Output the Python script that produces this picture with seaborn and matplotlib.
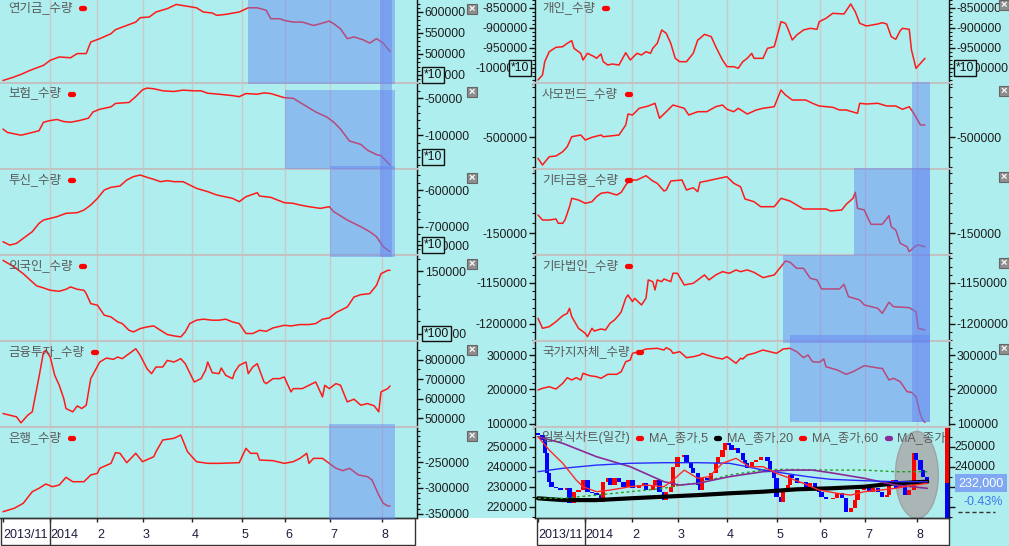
import matplotlib
matplotlib.use("Agg")
import matplotlib.pyplot as plt
import matplotlib.transforms as mtransforms
from matplotlib.patches import Rectangle, Ellipse
from matplotlib.lines import Line2D
from matplotlib.ticker import MultipleLocator, NullLocator
import pandas as pd
import seaborn as sns

W, H = 1009, 546
BG = "#AFEEEE"

# ---------------- data ----------------
MONTH_POS = [0, 20.9, 41.8, 62.2, 84.0, 106.2, 125.3, 145.3, 168.4]
MONTH_LABELS = ["2013/11", "2014", "2", "3", "4", "5", "6", "7", "8"]

PENSION = [(0,437000),(4,443600),(8,451500),(12,461000),(18,473000),(21,485000),(25,493000),(30,491000),
           (33,501000),(37,501000),(39,528500),(43,536500),(48,548400),(50,558000),(55,568000),(59,576000),
           (61,586500),(65,588000),(68,600000),(73,608000),(77,618000),(82,613500),(86,610000),(89,600000),
           (93,597600),(95,592000),(99,594400),(105,600000),(109,610000),(113,610000),(117,604000),(119,584000),
           (123,584000),(125,580000),(129,576000),(133,576000),(138,568000),(141,572000),(145,578500),(147,572000),
           (150,560000),(153,536500),(156,540500),(160,534000),(163,526000),(166,536500),(169,526000),(172,506000)]

INSURANCE = [(0,-91670),(2,-96300),(8,-100000),(13,-96300),(16,-94000),(18,-82400),(21,-80100),(24,-78700),
             (27,-81500),(30,-82400),(34,-80100),(38,-76900),(40,-68500),(43,-64800),(48,-61600),(50,-56900),
             (56,-55600),(59,-47700),(62,-38400),(64,-36100),(67,-37000),(71,-39800),(76,-40700),(80,-38900),
             (85,-39800),(88,-39800),(91,-43100),(96,-44400),(102,-46300),(105,-47700),(108,-43500),(113,-44400),
             (116,-42600),(119,-43500),(122,-46300),(125,-49100),(129,-50000),(132,-55600),(136,-63000),
             (139,-68500),(144,-75500),(147,-82400),(150,-91700),(154,-107900),(159,-112500),(162,-120400),
             (166,-126400),(168,-127800),(172,-140300)]

INVTRUST = [(0,-740900),(3,-750000),(6,-745400),(9,-731800),(11,-722700),(13,-713600),(16,-690900),(18,-681800),
            (21,-677300),(24,-672700),(28,-663600),(33,-661800),(36,-654500),(39,-640900),(42,-622700),(45,-600000),
            (48,-592700),(52,-589100),(55,-572700),(58,-563600),(61,-559100),(64,-565500),(67,-570900),(70,-577300),
            (73,-574500),(76,-577300),(80,-577300),(83,-586400),(86,-595500),(91,-604500),(95,-613600),(102,-622700),
            (105,-631800),(108,-618200),(113,-607300),(114,-616400),(119,-620000),(122,-627300),(125,-634500),
            (129,-636400),(132,-640900),(136,-645500),(141,-650000),(145,-645500),(147,-659100),(153,-681800),
            (159,-700000),(163,-713600),(166,-727300),(169,-754500),(172,-768200)]

FOREIGN = [(0,158800),(5,153500),(9,148100),(13,141500),(15,138300),(18,136700),(21,134800),(25,134000),(28,135600),
           (30,137500),(33,135600),(36,134800),(37,132100),(39,124100),(42,122800),(45,114800),(48,113400),(51,109400),
           (53,108100),(56,102700),(58,101400),(61,104100),(64,105400),(67,106200),(70,102700),(73,99300),(76,98200),
           (79,97400),(81,101400),(83,108100),(86,110800),(89,111600),(93,110800),(96,110800),(99,111600),(102,109400),
           (105,108100),(108,100100),(111,100100),(114,102700),(117,101900),(120,104600),(125,106700),(128,106200),
           (132,107300),(136,107300),(139,108100),(142,111600),(145,112600),(148,116900),(153,121400),(156,129400),
           (159,131300),(163,132100),(166,138800),(168,148100),(171,150800),(172,150800)]

FININV = [(0,525400),(3,516900),(6,508500),(8,477900),(11,516900),(13,533900),(15,652500),(16,711900),(18,839000),
          (19,847500),(21,813600),(23,720300),(25,669500),(27,601700),(28,550800),(31,533900),(33,564400),(35,550800),
          (37,567800),(39,703400),(41,745800),(43,788100),(46,808500),(49,801700),(51,813600),(53,805100),(56,830500),
          (59,855900),(61,822000),(64,754200),(66,728800),(68,762700),(71,762700),(73,796600),(76,788100),(79,805100),
          (81,779700),(85,686400),(88,703400),(90,745800),(91,788100),(93,733900),(96,728800),(97,757600),(99,720300),
          (102,703400),(103,737300),(105,771200),(108,788100),(109,728800),(111,762700),(113,779700),(116,686400),
          (117,678000),(120,703400),(123,703400),(125,711900),(128,635600),(129,652500),(133,652500),(136,669500),
          (139,686400),(142,610200),(143,669500),(145,652500),(148,678000),(150,669500),(153,584700),(156,598300),
          (159,567800),(162,576300),(165,564400),(167,533900),(168,635600),(171,652500),(172,666100)]

BANK = [(0,-345600),(5,-339000),(9,-329400),(13,-307100),(16,-300600),(19,-292300),(22,-297500),(25,-294200),
        (28,-279500),(31,-287900),(36,-287900),(39,-275000),(42,-271700),(43,-262100),(48,-252600),(50,-232100),
        (52,-233300),(55,-251300),(59,-233300),(62,-249400),(67,-239800),(68,-230200),(71,-207700),(76,-204400),
        (79,-198100),(82,-230200),(86,-249400),(91,-252600),(96,-252600),(105,-251300),(108,-223700),(110,-233300),
        (113,-233300),(114,-246200),(120,-247400),(125,-252600),(129,-249400),(132,-243000),(135,-233300),
        (136,-252600),(138,-243000),(142,-243000),(145,-252600),(148,-262100),(151,-266700),(154,-262100),
        (158,-275000),(162,-278200),(164,-284600),(167,-313500),(169,-329400),(171,-334600),(172,-334600)]

INDIVIDUAL = [(0,-1030000),(2,-1017500),(3,-984200),(5,-959200),(8,-948300),(11,-946700),(13,-938300),(15,-931700),
              (16,-950800),(19,-963300),(20,-980000),(22,-963300),(25,-971700),(26,-975800),(28,-965000),(29,-984200),
              (31,-992500),(33,-990000),(36,-992500),(39,-961700),(41,-980000),(44,-963300),(46,-967500),(48,-959200),
              (50,-963300),(51,-950800),(53,-938300),(55,-905000),(57,-913300),(59,-938300),(61,-975800),(63,-984200),
              (66,-984200),(69,-963300),(71,-930000),(72,-925800),(74,-915800),(77,-921700),(79,-946700),(82,-980000),
              (84,-996700),(87,-996700),(89,-1000800),(91,-984200),(93,-975800),(95,-963300),(96,-975800),
              (100,-975800),(102,-950800),(105,-946700),(108,-884200),(110,-888300),(111,-900800),(113,-930000),
              (115,-917500),(118,-905000),(121,-900800),(124,-903300),(125,-884200),(128,-875800),(131,-863300),
              (136,-865000),(139,-840000),(141,-859200),(143,-888300),(146,-895000),(151,-890000),(153,-886700),
              (155,-890000),(157,-921700),(159,-928300),(161,-906700),(162,-900800),(165,-903300),(166,-955000),
              (168,-1000800),(170,-988300),(172,-975800)]

PRIVFUND = [(0,-521300),(2,-528000),(5,-519700),(8,-519000),(11,-514700),(13,-509700),(15,-499700),(19,-498000),
            (21,-503000),(24,-500300),(28,-498000),(29,-499700),(32,-499000),(36,-498000),(39,-488000),(40,-477000),
            (42,-478000),(45,-471300),(49,-469000),(52,-466300),(54,-481300),(57,-474700),(60,-468000),(65,-471300),
            (67,-478000),(71,-474700),(75,-474700),(79,-469700),(82,-468000),(84,-472300),(87,-474700),(89,-471300),
            (93,-477000),(97,-473000),(100,-471300),(105,-469700),(108,-453000),(110,-458000),(113,-463000),
            (119,-463000),(122,-466300),(125,-469000),(131,-470300),(134,-473000),(137,-473000),(142,-476300),
            (143,-466300),(146,-467000),(151,-466300),(155,-469000),(159,-469000),(162,-472300),(165,-469700),
            (167,-476300),(170,-488000),(172,-488000)]

OTHERFIN = [(0,-132000),(2,-137000),(5,-137000),(8,-136000),(9,-140300),(11,-140300),(12,-137000),(14,-123700),
            (15,-115300),(18,-117000),(21,-120300),(24,-118700),(26,-113700),(28,-110300),(31,-109300),(35,-112000),
            (37,-109300),(39,-102000),(41,-97000),(44,-97000),(48,-92700),(51,-98000),(53,-100300),(56,-108000),
            (57,-107000),(59,-98000),(64,-97000),(66,-107000),(69,-104700),(71,-108700),(72,-99300),(75,-98000),
            (79,-96000),(84,-93700),(87,-100300),(90,-103700),(92,-116000),(96,-118700),(99,-123700),(105,-123700),
            (108,-115300),(112,-118000),(115,-122000),(118,-126000),(128,-126000),(130,-128000),(135,-127000),
            (137,-121300),(140,-115300),(141,-109300),(142,-125300),(145,-127000),(146,-132000),(148,-141300),
            (153,-141300),(156,-132700),(157,-143700),(159,-147000),(161,-160300),(164,-163700),(165,-168700),
            (168,-162700),(169,-162000),(172,-163700)]

OTHERCORP = [(0,-1193100),(2,-1205300),(5,-1203300),(8,-1197200),(11,-1189900),(13,-1187000),(14,-1180900),
             (15,-1191100),(18,-1205300),(21,-1211400),(22,-1215500),(24,-1205300),(25,-1208600),(28,-1206100),
             (30,-1207300),(32,-1199200),(34,-1195100),(36,-1189000),(37,-1185000),(39,-1168700),(40,-1164600),
             (42,-1172800),(43,-1168700),(46,-1176800),(48,-1168700),(49,-1146300),(51,-1148400),(52,-1158500),
             (53,-1146300),(55,-1148400),(56,-1145100),(59,-1148400),(60,-1138200),(62,-1138200),(65,-1152400),
             (69,-1150400),(72,-1144300),(74,-1140200),(76,-1146300),(79,-1140200),(82,-1136200),(85,-1138200),
             (88,-1134100),(90,-1136200),(93,-1134100),(96,-1137000),(100,-1143500),(105,-1140200),(108,-1130100),
             (110,-1123200),(112,-1124700),(115,-1132100),(118,-1132100),(121,-1144300),(124,-1146300),
             (126,-1157300),(134,-1157300),(136,-1151600),(138,-1166700),(143,-1170700),(145,-1176800),
             (151,-1180900),(153,-1187000),(156,-1173500),(158,-1178900),(165,-1180100),(168,-1185000),
             (169,-1205300),(172,-1207300)]

GOVT = [(0,198500),(2,203400),(5,208100),(7,203400),(8,201400),(11,217900),(13,234200),(15,227500),(17,234200),
        (19,227500),(20,246900),(23,240000),(26,237100),(28,232400),(31,244000),(35,244000),(37,251600),(39,280600),
        (41,285500),(42,304900),(45,309600),(48,317400),(53,319400),(56,314500),(57,321200),(59,314500),(60,304900),
        (63,309600),(66,292200),(69,295100),(72,300000),(73,304900),(76,298000),(79,292200),(82,288400),(84,295100),
        (85,290400),(88,275900),(90,290400),(91,288400),(93,300000),(96,304900),(100,314500),(103,309600),(106,304900),
        (109,317400),(112,319400),(115,309600),(118,292200),(120,300000),(122,280600),(125,278800),(127,288400),
        (128,266100),(133,256500),(137,244000),(140,251600),(145,269000),(152,261400),(153,261400),(156,227500),
        (158,232400),(161,222600),(164,193600),(166,191800),(168,179100),(170,126000),(171,111500),(172,104800)]

# daily chart: (day, open, close)
CANDLES = [(0,257000,255800),(2,255800,253300),(3,253300,246700),(4,246700,236700),(5,236700,232500),
           (6,232500,230000),(8,230000,229200),(10,229200,228300),(13,228300,229200),(14,229200,221700),
           (16,221700,227500),(18,227500,228300),(20,228300,233300),(22,233300,227500),(24,227500,226700),
           (26,226700,225800),(28,225800,222500),(29,222500,232500),(31,232500,234200),(32,234200,230800),
           (34,230800,234200),(36,234200,232500),(38,232500,230000),(40,230000,233300),(42,233300,229200),
           (45,229200,230800),(47,230800,231700),(48,231700,228300),(51,228300,230800),(52,230800,233300),
           (54,233300,227500),(56,227500,223300),(57,223300,227500),(59,227500,230000),(60,230000,240000),
           (62,240000,245000),(65,245000,245800),(66,245800,241700),(68,241700,239200),(69,239200,236700),
           (71,236700,230800),(72,230800,228300),(73,228300,234200),(75,234200,233300),(77,233300,236700),
           (79,236700,241700),(80,241700,245000),(82,245000,248300),(83,248300,251700),(85,251700,250800),
           (86,250800,248300),(88,248300,249200),(89,249200,246700),(91,246700,243300),(92,243300,241700),
           (93,241700,239200),(95,239200,242500),(97,242500,243300),(99,243300,245000),(102,245000,243000),
           (103,243000,237500),(105,237500,234200),(106,234200,225000),(108,225000,222500),(109,222500,227500),
           (111,227500,230800),(112,230800,235800),(113,235800,234200),(115,234200,231700),(117,231700,232500),
           (119,232500,230000),(121,230000,231700),(123,231700,230000),(125,230000,227500),(126,227500,225000),
           (128,225000,223700),(131,223700,224200),(133,224200,226700),(135,226700,224200),(137,224200,217500),
           (139,217500,219200),(141,219200,223300),(142,223300,228300),(145,228300,229200),(147,229200,227500),
           (149,227500,229200),(151,229200,227500),(153,227500,225000),(155,225000,225800),(156,225800,232500),
           (158,232500,233300),(159,233300,229200),(161,229200,231000),(163,231000,225800),(165,225800,228300),
           (167,228300,246700),(168,246700,243300),(170,243300,238300),(171,238300,235000),(173,235000,232000)]

MA_RED = [(0,255000),(5,248300),(11,241700),(17,233300),(20,230000),(26,227500),(32,228300),(41,230000),(48,230800),
          (56,230000),(60,233300),(65,238300),(71,234200),(76,235000),(82,241700),(88,244200),(94,240000),(100,240000),
          (106,236700),(112,234200),(118,231700),(125,228300),(133,226700),(139,225800),(145,227500),(152,228300),
          (159,229200),(167,230800),(173,231700)]
MA_BLUE = [(0,237500),(11,239200),(26,240800),(41,241700),(56,242000),(71,242000),(85,241700),(93,240000),
           (100,238300),(108,237000),(115,235800),(122,234700),(130,233700),(145,233000),(159,232500),(173,232500)]
MA_PURPLE = [(0,255000),(11,251700),(26,245000),(41,240000),(56,232500),(63,230800),(71,231700),(85,235000),
             (100,237500),(112,238300),(122,238300),(130,237000),(145,234200),(159,230800),(173,229200)]
MA_GREEN = [(0,224200),(11,224200),(26,225800),(41,227500),(56,229200),(63,230800),(71,231700),(85,235800),
            (100,238300),(109,238700),(130,238300),(145,238300),(159,237500),(173,237500)]
MA_BLACK = [(0,224200),(11,223300),(26,223300),(41,224200),(56,225000),(71,225800),(85,226700),(100,227500),
            (115,228700),(130,229200),(145,230000),(159,231700),(173,232500)]

LAST_PRICE = "232,000"
LAST_CHANGE = "-0.43%"
CHART_TITLE = "일봉식차트(일간)"
MA_NAMES = ["MA_종가,5", "MA_종가,20", "MA_종가,60", "MA_종가,120"]

# ---------------- style ----------------
sns.set_theme(style="white")
plt.rcParams["font.family"] = ["Liberation Sans", "Noto Sans CJK KR", "DejaVu Sans"]
plt.rcParams["axes.unicode_minus"] = False

fig = plt.figure(figsize=(W / 100, H / 100), dpi=100, facecolor=BG)
renderer = fig.canvas.get_renderer()

ROWS = [(0, 84), (84, 170), (170, 256), (256, 342), (342, 428), (428, 518)]
LINE_RED = "#ff1a1a"
TICK_FS = 8.7
TITLE_FS = 9
TITLE_C = "#5a5a5a"


def fx(x):
    return x / W


def fy(y):
    return 1 - y / H


def px_ax(x0, x1, y0, y1):
    return fig.add_axes([x0 / W, 1 - y1 / H, (x1 - x0) / W, (y1 - y0) / H])


def pill(x, y, color):
    fig.add_artist(Line2D([fx(x + 2.5), fx(x + 5.5)], [fy(y), fy(y)], lw=3.8, color=color,
                          solid_capstyle="round"))
    return x + 8


def place_items(x, y, items, clip_ax=None):
    for kind, val, col in items:
        if kind == "text":
            t = fig.text(fx(x), fy(y), val, fontsize=TITLE_FS, color=col, va="center", ha="left")
            if clip_ax is not None:
                t.set_clip_box(clip_ax.bbox)
                t.set_clip_on(True)
            bb = t.get_window_extent(renderer)
            x = bb.x1 + 6
        else:
            x = pill(x, y, col) + 5


def close_button(x, y):
    fig.add_artist(Rectangle((fx(x), fy(y + 10)), 10 / W, 10 / H, facecolor="#8e8e8e",
                             edgecolor="#666666", lw=0.8, transform=fig.transFigure))
    fig.text(fx(x + 5), fy(y + 5), "×", color="white", fontsize=8, ha="center", va="center",
             fontweight="bold")


def make_panel(col, r, title, pairs, ylim, ticks, minor, mult=None, right_ticks=None):
    y0, y1 = ROWS[r]
    if col == 0:
        ax = px_ax(0, 417, y0, y1)
        ax.set_xlim(-1.33, 184.0)
    else:
        ax = px_ax(535, 949, y0, y1)
        ax.set_xlim(-1.33, 182.67)
    ax.set_facecolor(BG)
    ax.set_ylim(*ylim)
    for m in MONTH_POS[1:]:
        ax.axvline(m, color="#c9c9c9", lw=1, zorder=0.5)
    if pairs is not None:
        df = pd.DataFrame(pairs, columns=["day", "value"])
        sns.lineplot(data=df, x="day", y="value", ax=ax, color=LINE_RED, lw=1.1, zorder=2,
                     estimator=None)
    ax.set_xlabel("")
    ax.set_ylabel("")
    for s in ax.spines.values():
        s.set_visible(False)
    sb = ax.spines["bottom"]
    sb.set_visible(True)
    if r < 5:
        sb.set_color("#c2c2c2")
        sb.set_linewidth(3)
        ax.set_xticks([])
    else:
        sb.set_color("#222222")
        sb.set_linewidth(1)
        ax.set_xticks(MONTH_POS)
        ax.set_xticklabels(MONTH_LABELS)
        ax.tick_params(axis="x", bottom=True, length=3, width=1, direction="out", pad=5,
                       labelsize=9, labelcolor="#1c1c3c", color="#222222")
        for lab in ax.get_xticklabels():
            lab.set_ha("left")
    ax.xaxis.set_minor_locator(NullLocator())
    ax.set_yticks(ticks)
    ax.set_yticklabels([str(t) for t in ticks])
    ax.yaxis.set_minor_locator(MultipleLocator(minor))
    if col == 0:
        ax.spines["right"].set_visible(True)
        ax.spines["right"].set_color("#111111")
        ax.spines["right"].set_linewidth(1)
        ax.tick_params(axis="y", which="both", left=False, right=True, labelleft=False,
                       labelright=True, direction="out", color="#111111")
    else:
        for side in ("left", "right"):
            ax.spines[side].set_visible(True)
            ax.spines[side].set_color("#111111")
            ax.spines[side].set_linewidth(1)
        ax.tick_params(axis="y", which="both", left=True, right=True, labelleft=True,
                       labelright=right_ticks is None, direction="out", color="#111111")
        if right_ticks is not None:
            for t in right_ticks:
                ax.annotate(str(t), xy=(1, t), xycoords=("axes fraction", "data"), xytext=(5, 0),
                            textcoords="offset pixels", ha="left", va="center", fontsize=TICK_FS,
                            color="#1e1e1e", annotation_clip=False)
    ax.tick_params(axis="y", which="major", length=4, width=1, labelsize=TICK_FS, pad=1.5,
                   labelcolor="#1e1e1e")
    ax.tick_params(axis="y", which="minor", length=2, width=0.8)
    if mult is not None:
        txt, val, side = mult
        for sd in side:
            if sd == "r":
                ax.annotate(txt, xy=(1, val), xycoords=("axes fraction", "data"), xytext=(7, 0),
                            textcoords="offset pixels", ha="left", va="center", fontsize=TICK_FS,
                            color="#111111", annotation_clip=False,
                            bbox=dict(boxstyle="square,pad=0.15", fc=BG, ec="#111111", lw=1))
            else:
                ax.annotate(txt, xy=(0, val), xycoords=("axes fraction", "data"), xytext=(-6, 0),
                            textcoords="offset pixels", ha="right", va="center", fontsize=TICK_FS,
                            color="#111111", annotation_clip=False,
                            bbox=dict(boxstyle="square,pad=0.15", fc=BG, ec="#111111", lw=1))
    # title + marker
    tx = 8 if col == 0 else 542
    ty = y0 + (8 if r == 0 else 10)
    if title is not None:
        place_items(tx, ty, [("text", title, TITLE_C), ("pill", None, "#ff0000")])
    return ax


# bottom white date strip
fig.add_artist(Rectangle((0, 0), fx(950), 28 / H, facecolor="white", edgecolor="none",
                         transform=fig.transFigure, zorder=0))
fig.add_artist(Rectangle((fx(0.5), fy(545)), fx(414.5), 27 / H, facecolor="none", edgecolor="#333333",
                         lw=1, transform=fig.transFigure))
fig.add_artist(Rectangle((fx(536.5), fy(545)), fx(412.5), 27 / H, facecolor="none", edgecolor="#333333",
                         lw=1, transform=fig.transFigure))

L = []
L.append(make_panel(0, 0, "연기금_수량", PENSION, (428571, 628571), [600000, 550000, 500000, 450000], 10000,
                    ("*10", 450000, "r")))
L.append(make_panel(0, 1, "보험_수량", INSURANCE, (-147222, -30556), [-50000, -100000], 10000,
                    ("*10", -130000, "r")))
L.append(make_panel(0, 2, "투신_수량", INVTRUST, (-779800, -545500), [-600000, -700000, -750000], 20000,
                    ("*10", -750000, "r")))
L.append(make_panel(0, 3, "외국인_수량", FOREIGN, (93300, 162300), [150000, 100000], 10000,
                    ("*100", 100000, "r")))
L.append(make_panel(0, 4, "금융투자_수량", FININV, (451500, 890300), [800000, 700000, 600000, 500000], 50000))
L.append(make_panel(0, 5, "은행_수량", BANK, (-357700, -184600), [-250000, -300000, -350000], 10000))

R = []
R.append(make_panel(1, 0, "개인_수량", INDIVIDUAL, (-1040000, -830000),
                    [-850000, -900000, -950000, -1000000], 10000, ("*10", -1000000, "lr")))
R.append(make_panel(1, 1, "사모펀드_수량", PRIVFUND, (-533000, -447000), [-500000], 10000))
R.append(make_panel(1, 2, "기타금융_수량", OTHERFIN, (-173000, -87000), [-150000], 10000))
R.append(make_panel(1, 3, "기타법인_수량", OTHERCORP, (-1222000, -1117100), [-1150000, -1200000], 10000))
R.append(make_panel(1, 4, "국가지자체_수량", GOVT, (88300, 337700), [300000, 200000, 100000], 20000))
ax6 = make_panel(1, 5, None, None, (214350, 259350), [250000, 240000, 230000, 220000], 5000,
                 right_ticks=[250000, 240000])
R.append(ax6)

# ---- daily candle chart ----
ax6.add_patch(Ellipse((168.4, 235850), 19.1, 43500, facecolor="#a9a9a9", edgecolor="#9a9a9a",
                      alpha=0.8, zorder=1))
cdf = pd.DataFrame(CANDLES, columns=["day", "open", "close"])
heights = [(c - o) if c != o else 300 for o, c in zip(cdf["open"], cdf["close"])]
colors = ["#ff0000" if c >= o else "#0000ff" for o, c in zip(cdf["open"], cdf["close"])]
ax6.bar(cdf["day"], heights, bottom=cdf["open"], width=1.8, color=colors, zorder=2, linewidth=0)

for data, c, lw, ls in [(MA_BLACK, "#000000", 3.0, "-"), (MA_GREEN, "#1fa01f", 1.0, (0, (2, 2))),
                        (MA_PURPLE, "#8a2a9a", 1.2, "-"), (MA_BLUE, "#2a2aff", 1.0, "-"),
                        (MA_RED, "#ff2a2a", 1.0, "-")]:
    d = pd.DataFrame(data, columns=["day", "value"])
    sns.lineplot(data=d, x="day", y="value", ax=ax6, color=c, lw=lw, linestyle=ls, zorder=3,
                 estimator=None)
ax6.set_xlabel("")
ax6.set_ylabel("")

# up/down bar on the right edge
tr6 = mtransforms.blended_transform_factory(ax6.transAxes, ax6.transData)
ax6.add_patch(Rectangle((0.9915, 232000), 0.0085, 259350 - 232000, facecolor="#ff0000", edgecolor="none",
                        transform=tr6, zorder=4, clip_on=False))
ax6.add_patch(Rectangle((0.9915, 214350), 0.0085, 232000 - 214350, facecolor="#0000ff", edgecolor="none",
                        transform=tr6, zorder=4, clip_on=False))

# legend row of the candle chart
items = [("text", CHART_TITLE, TITLE_C), ("pill", None, "#ff0000")]
pill_cols = ["#000000", "#ff0000", "#8a2a9a", None]
for name, pc in zip(MA_NAMES, pill_cols):
    items.append(("text", name, TITLE_C))
    if pc is not None:
        items.append(("pill", None, pc))
place_items(541, 438, items, clip_ax=ax6)

# price tag and change
fig.text(fx(981), fy(483), LAST_PRICE, color="white", fontsize=9, ha="center", va="center",
         bbox=dict(boxstyle="square,pad=0.25", fc="#80a8f2", ec="none"))
fig.text(fx(983), fy(502), LAST_CHANGE, color="#3a78f0", fontsize=9, ha="center", va="center")
fig.add_artist(Line2D([fx(958), fx(995)], [fy(512), fy(512)], color="#333333", lw=1, ls=(0, (3, 2))))

# highlight rectangles (day ranges, pixel rows)
HL_COLOR = "#6183F2"
HIGHLIGHTS = [(0, 108.9, 174.2, 0, 84), (0, 125.3, 174.2, 90, 169), (0, 145.3, 174.2, 166, 257),
              (0, 167.6, 172.9, 0, 257), (0, 145.0, 174.2, 424, 520),
              (1, 166.2, 174.2, 82, 422), (1, 140.4, 174.2, 168, 255), (1, 108.9, 174.2, 255, 343),
              (1, 112.0, 174.2, 335, 422)]
for col, d0, d1, ya, yb in HIGHLIGHTS:
    ref = L[0] if col == 0 else R[0]
    tr = mtransforms.blended_transform_factory(ref.transData, fig.transFigure)
    fig.add_artist(Rectangle((d0, fy(yb)), d1 - d0, (yb - ya) / H, transform=tr,
                             facecolor=HL_COLOR, edgecolor="none", alpha=0.45, zorder=5))

# divider between first two date labels
for ax in (L[5], R[5]):
    trd = mtransforms.blended_transform_factory(ax.transData, ax.transAxes)
    ax.plot([MONTH_POS[1], MONTH_POS[1]], [0, -0.31], transform=trd, color="#333333", lw=1, clip_on=False)

# close buttons
for r, (y0, y1) in enumerate(ROWS):
    close_button(467, y0 + 4 if r == 0 else y0 + 3)
    if r < 5:
        close_button(999, 0 if r == 0 else y0 + 2)

fig.savefig("out.png", dpi=100, facecolor=BG)
